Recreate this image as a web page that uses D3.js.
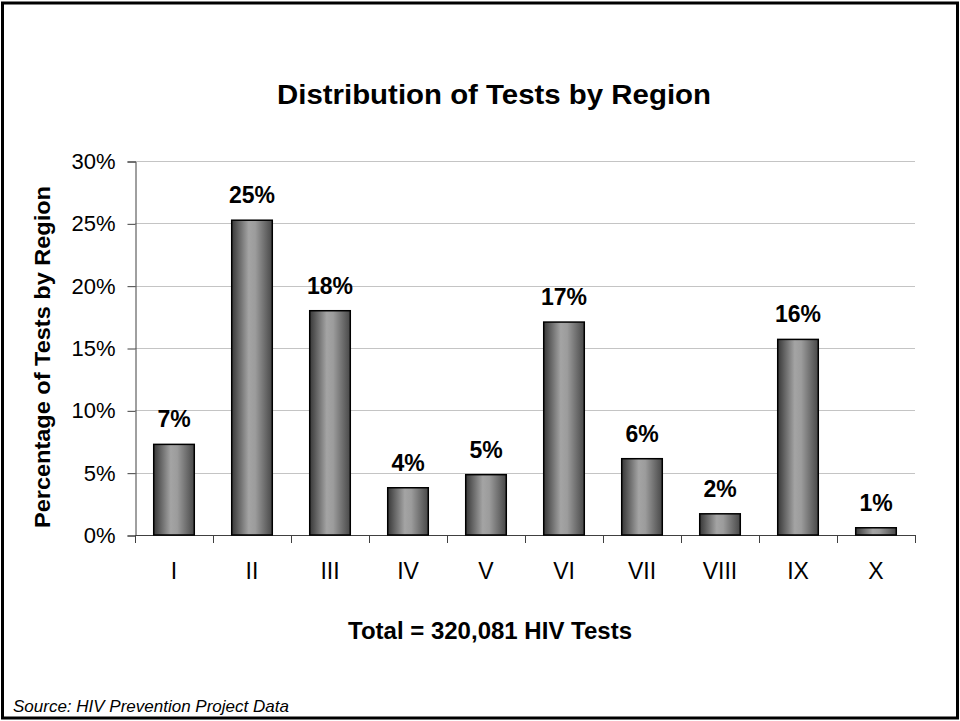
<!DOCTYPE html>
<meta charset="utf-8">
<style>
body { margin: 0; background: #fff; }
text { font-family: Arial, "Liberation Sans", sans-serif; fill: #000; }
.grid line { stroke: #c4c4c4; stroke-width: 1; }
.bar { stroke: #000; stroke-width: 1.5; }
</style>
<svg width="960" height="721"></svg>
<script src="https://d3js.org/d3.v7.min.js"></script>
<script>

var regions = ["I", "II", "III", "IV", "V", "VI", "VII", "VIII", "IX", "X"];
var shares = [7.27, 25.25, 17.99, 3.79, 4.84, 17.08, 6.12, 1.70, 15.69, 0.58];
var yTicks = [0, 5, 10, 15, 20, 25, 30];

var svg = d3.select("svg"),
    width = +svg.attr("width"),
    height = +svg.attr("height");

var x = d3.scaleBand()
    .domain(regions)
    .range([135, 915])
    .paddingInner(0.48)
    .paddingOuter(0.24);

var y = d3.scaleLinear()
    .domain([0, 30])
    .range([535, 161]);

// gradient for the bars, dark edges light middle
var grad = svg.append("defs").append("linearGradient")
    .attr("id", "barfill")
    .attr("x1", "0%").attr("x2", "100%").attr("y1", "0%").attr("y2", "0%");
grad.append("stop").attr("offset", "0%").attr("stop-color", "#383838");
grad.append("stop").attr("offset", "42%").attr("stop-color", "#a4a4a4");
grad.append("stop").attr("offset", "58%").attr("stop-color", "#9c9c9c");
grad.append("stop").attr("offset", "100%").attr("stop-color", "#484848");

// slide border
svg.append("rect")
    .attr("x", 2.5).attr("y", 3)
    .attr("width", 955).attr("height", 715)
    .attr("fill", "none")
    .attr("stroke", "#000")
    .attr("stroke-width", 3);

// gridlines
svg.append("g")
    .attr("class", "grid")
  .selectAll("line")
  .data(yTicks.slice(1))
  .enter().append("line")
    .attr("x1", 135).attr("x2", 915)
    .attr("y1", function(d) { return Math.round(y(d)) + 0.5; })
    .attr("y2", function(d) { return Math.round(y(d)) + 0.5; });

// y axis
var yAxis = svg.append("g")
    .attr("transform", "translate(135.5,0.5)")
    .call(d3.axisLeft(y)
      .tickValues(yTicks)
      .tickSize(8)
      .tickPadding(12)
      .tickFormat(function(d) { return d + "%"; }));
yAxis.selectAll("text").attr("font-size", 22).attr("font-family", "Arial, 'Liberation Sans', sans-serif");
yAxis.selectAll("line, path").attr("stroke", "#404040");

// x axis: ticks sit on the band edges
var edges = regions.map(function(r) { return x(r) - x.step() * x.paddingOuter(); });
edges.push(915);

svg.append("line")
    .attr("x1", 135).attr("x2", 915)
    .attr("y1", 535.5).attr("y2", 535.5)
    .attr("stroke", "#404040");

svg.append("g")
  .selectAll("line")
  .data(edges)
  .enter().append("line")
    .attr("x1", function(d) { return Math.round(d) + 0.5; })
    .attr("x2", function(d) { return Math.round(d) + 0.5; })
    .attr("y1", 535).attr("y2", 543)
    .attr("stroke", "#404040");

svg.append("g")
  .selectAll("text")
  .data(regions)
  .enter().append("text")
    .attr("x", function(d) { return x(d) + x.bandwidth() / 2; })
    .attr("y", 579)
    .attr("text-anchor", "middle")
    .attr("font-size", 23)
    .text(function(d) { return d; });

// bars
svg.append("g")
  .selectAll("rect")
  .data(shares)
  .enter().append("rect")
    .attr("class", "bar")
    .attr("x", function(d, i) { return x(regions[i]); })
    .attr("y", function(d) { return y(d); })
    .attr("width", x.bandwidth())
    .attr("height", function(d) { return y(0) - y(d); })
    .attr("fill", "url(#barfill)");

// value labels
svg.append("g")
  .selectAll("text")
  .data(shares)
  .enter().append("text")
    .attr("x", function(d, i) { return x(regions[i]) + x.bandwidth() / 2; })
    .attr("y", function(d) { return y(d) - 17; })
    .attr("text-anchor", "middle")
    .attr("font-size", 23)
    .attr("font-weight", "bold")
    .text(function(d) { return Math.round(d) + "%"; });

svg.append("text")
    .attr("x", 494)
    .attr("y", 104)
    .attr("text-anchor", "middle")
    .attr("font-size", 27)
    .attr("font-weight", "bold")
    .attr("textLength", 434)
    .attr("lengthAdjust", "spacingAndGlyphs")
    .text("Distribution of Tests by Region");

svg.append("text")
    .attr("transform", "translate(50,357) rotate(-90)")
    .attr("text-anchor", "middle")
    .attr("font-size", 22)
    .attr("font-weight", "bold")
    .attr("textLength", 342)
    .attr("lengthAdjust", "spacingAndGlyphs")
    .text("Percentage of Tests by Region");

svg.append("text")
    .attr("x", 490)
    .attr("y", 639)
    .attr("text-anchor", "middle")
    .attr("font-size", 24)
    .attr("font-weight", "bold")
    .attr("textLength", 284)
    .attr("lengthAdjust", "spacingAndGlyphs")
    .text("Total = 320,081 HIV Tests");

svg.append("text")
    .attr("x", 13)
    .attr("y", 712)
    .attr("font-size", 17)
    .attr("font-style", "italic")
    .text("Source: HIV Prevention Project Data");

</script>
